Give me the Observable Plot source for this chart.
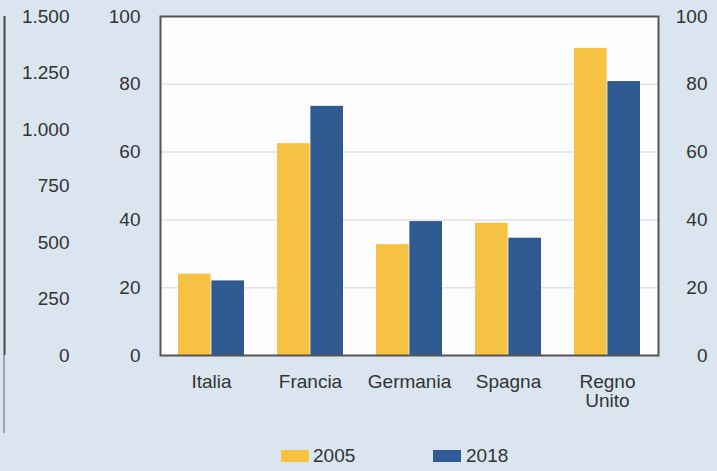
<!DOCTYPE html>
<html>
<head>
<meta charset="utf-8">
<script src="https://cdn.jsdelivr.net/npm/d3@7"></script>
<script src="https://cdn.jsdelivr.net/npm/@observablehq/plot@0.6"></script>
<style>
  html, body { margin: 0; padding: 0; background: #dae5f0; }
  #wrap { position: relative; width: 717px; height: 471px; background: #dae5f0; overflow: hidden;
          font-family: "Liberation Sans", Arial, sans-serif; color: #333; }
  #main, #left { position: absolute; top: 0; }
  #main { left: 0; }
  #left { left: 0; }
  .cont { position: absolute; left: 3px; top: 355px; width: 2px; height: 78px; background: #9aa6b2; }
  .sw { position: absolute; width: 28px; height: 12px; top: 450px; }
  .lt { position: absolute; top: 444px; font-size: 19px; line-height: 24px; color: #333; }
</style>
</head>
<body>
<div id="wrap">
  <div id="main"></div>
  <div id="left"></div>
  <div class="cont"></div>
  <div id="legend"></div>
</div>
<script>
// ---- data ----
const countries = ["Italia", "Francia", "Germania", "Spagna", "Regno Unito"];
const years = ["2005", "2018"];
const values2005 = [24, 62.5, 32.7, 39, 90.6];
const values2018 = [22, 73.5, 39.5, 34.6, 80.8];
const yTicks = [0, 20, 40, 60, 80, 100];
const gridTicks = [20, 40, 60, 80];
const leftTicks = [0, 250, 500, 750, 1000, 1250, 1500];
const colors = ["#f6c243", "#2f5b92"];

const rows2005 = countries.map((c, i) => ({country: c, year: years[0], value: values2005[i]}));
const rows2018 = countries.map((c, i) => ({country: c, year: years[1], value: values2018[i]}));

const W = 717, H = 430;
const mL = 160, mR = 59, mT = 16, mB = 75;
const pIn = 0.33, pOut = 0.165;
const bw = d3.scaleBand().domain(countries).range([0, W - mL - mR]).paddingInner(pIn).paddingOuter(pOut).bandwidth();

const font = "'Liberation Sans', Arial, sans-serif";

const main = Plot.plot({
  width: W, height: H,
  marginLeft: mL, marginRight: mR, marginTop: mT, marginBottom: mB,
  style: {fontFamily: font, fontSize: "19px", color: "#333", background: "transparent"},
  x: {domain: countries, paddingInner: pIn, paddingOuter: pOut, label: null},
  y: {domain: [0, 100], label: null},
  marks: [
    Plot.frame({fill: "#fdfdff", stroke: null}),
    Plot.gridY(gridTicks, {stroke: "#e2e2e2", strokeOpacity: 1, strokeWidth: 1.5}),
    Plot.barY(rows2005, {x: "country", y: "value", fill: colors[0], insetRight: bw / 2}),
    Plot.barY(rows2018, {x: "country", y: "value", fill: colors[1], insetLeft: bw / 2}),
    Plot.frame({stroke: "#555", strokeWidth: 2}),
    Plot.axisY(yTicks, {anchor: "left", tickSize: 0, tickPadding: 20, label: null}),
    Plot.axisY(yTicks, {anchor: "right", tickSize: 0, tickPadding: 49, textAnchor: "end", label: null}),
    Plot.axisX({tickSize: 0, tickPadding: 19, lineHeight: 1.0, tickFormat: d => d.replace(" ", "\n"), label: null})
  ]
});
document.getElementById("main").appendChild(main);

const itFormat = d3.formatLocale({decimal: ",", thousands: ".", grouping: [3], currency: ["", "€"]}).format(",");

const left = Plot.plot({
  width: 100, height: H,
  marginLeft: 70, marginRight: 0, marginTop: mT, marginBottom: mB,
  style: {fontFamily: font, fontSize: "19px", color: "#333", background: "transparent"},
  x: {domain: [0, 1], range: [4, 100], axis: null},
  y: {domain: [0, 1500], label: null},
  marks: [
    Plot.ruleX([0], {y1: 0, y2: 1500, stroke: "#444", strokeWidth: 2}),
    Plot.axisY(leftTicks, {anchor: "left", tickSize: 0, tickPadding: 1, tickFormat: itFormat, label: null})
  ]
});
document.getElementById("left").appendChild(left);

// legend (below the chart)
const legend = document.getElementById("legend");
const legendPos = [{sw: 281, tx: 313}, {sw: 433, tx: 466}];
years.forEach((y, i) => {
  const s = document.createElement("div");
  s.className = "sw"; s.style.left = legendPos[i].sw + "px"; s.style.background = colors[i];
  const t = document.createElement("div");
  t.className = "lt"; t.style.left = legendPos[i].tx + "px"; t.textContent = y;
  legend.appendChild(s); legend.appendChild(t);
});
</script>
</body>
</html>
